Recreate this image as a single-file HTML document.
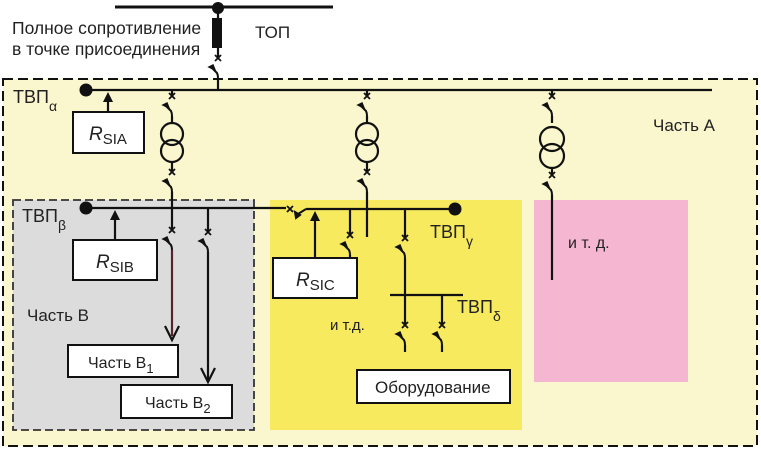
<!DOCTYPE html>
<html><head><meta charset="utf-8"><style>
html,body{margin:0;padding:0;background:#fff;}
svg{display:block;font-family:"Liberation Sans",sans-serif;}
</style></head><body>
<svg width="761" height="450" viewBox="0 0 761 450" xmlns="http://www.w3.org/2000/svg">
<defs>
<g id="sw" stroke="#111" stroke-width="2" fill="none">
 <path d="M-3,-3 L3,3 M3,-3 L-3,3" stroke-width="1.8"/>
 <path d="M-7,9 L-1,15 Q0,17 0,20"/>
 <path d="M-9,9 L-5,7 L-3,12 Z" fill="#111" stroke-width="1.5"/>
</g>
</defs>
<rect width="761" height="450" fill="#fff"/>
<rect x="3" y="79" width="754" height="367" fill="#faf6cd" stroke="#111" stroke-width="2" stroke-dasharray="10,5"/>
<rect x="13" y="200" width="241" height="230" fill="#dcdcdc" stroke="#333" stroke-width="1.8" stroke-dasharray="8,4"/>
<rect x="270" y="200" width="252" height="230" fill="#f7ea5e"/>
<rect x="534" y="200" width="154" height="182" fill="#f5b6d1"/>
<g stroke="#111" stroke-width="2.2" fill="none">
 <line x1="115" y1="7" x2="333" y2="7" stroke-width="3"/>
 <line x1="218" y1="7" x2="218" y2="20"/>
 <line x1="218" y1="48" x2="218" y2="58"/>
 <line x1="218" y1="78" x2="218" y2="90"/>
 <line x1="86" y1="90" x2="712" y2="90"/>
 <line x1="86" y1="208" x2="286" y2="208"/>
 <line x1="306" y1="209" x2="455" y2="209"/>
 <line x1="108" y1="112" x2="108" y2="100"/>
 <line x1="115" y1="240" x2="115" y2="218"/>
 <line x1="315" y1="258" x2="315" y2="219"/>
 <line x1="172" y1="90" x2="172" y2="96"/>
 <line x1="172" y1="116" x2="172" y2="123"/>
 <circle cx="172" cy="134" r="11"/><circle cx="172" cy="151" r="11"/>
 <line x1="172" y1="162" x2="172" y2="172"/>
 <line x1="172" y1="192" x2="172" y2="230"/>
 <line x1="172" y1="250" x2="172" y2="336" stroke="#5a2330"/>
 <path d="M165,326 L172,340 L179,326"/>
 <line x1="208" y1="208" x2="208" y2="232"/>
 <line x1="208" y1="252" x2="208" y2="380"/>
 <path d="M201,368 L208,382 L215,368"/>
 <line x1="367" y1="90" x2="367" y2="96"/>
 <line x1="367" y1="116" x2="367" y2="123"/>
 <circle cx="367" cy="134" r="11"/><circle cx="367" cy="151" r="11"/>
 <line x1="367" y1="162" x2="367" y2="172"/>
 <line x1="367" y1="192" x2="367" y2="237"/>
 <line x1="552" y1="90" x2="552" y2="96"/>
 <line x1="552" y1="116" x2="552" y2="123"/>
 <circle cx="552" cy="139" r="12"/><circle cx="552" cy="156" r="12"/>
 <line x1="552" y1="168" x2="552" y2="175"/>
 <line x1="552" y1="195" x2="552" y2="280"/>
 <line x1="350" y1="209" x2="350" y2="235"/>
 <line x1="350" y1="255" x2="350" y2="258"/>
 <line x1="405" y1="209" x2="405" y2="238"/>
 <line x1="405" y1="258" x2="405" y2="295"/>
 <line x1="390" y1="295" x2="463" y2="295"/>
 <line x1="405" y1="295" x2="405" y2="325"/>
 <line x1="442" y1="295" x2="442" y2="325"/>
 <line x1="405" y1="345" x2="405" y2="352"/>
 <line x1="442" y1="345" x2="442" y2="352"/>
</g>
<g fill="#111">
 <path d="M103,102 L108,92 L113,102 Z"/>
 <path d="M110,220 L115,210 L120,220 Z"/>
 <path d="M310,221 L315,211 L320,221 Z"/>
</g>
<use href="#sw" x="218" y="58"/>
<use href="#sw" x="172" y="96"/><use href="#sw" x="172" y="172"/>
<use href="#sw" x="367" y="96"/><use href="#sw" x="367" y="172"/>
<use href="#sw" x="552" y="96"/><use href="#sw" x="552" y="175"/>
<use href="#sw" x="172" y="230"/><use href="#sw" x="208" y="232"/>
<use href="#sw" x="350" y="235"/><use href="#sw" x="405" y="238"/>
<use href="#sw" x="405" y="325"/><use href="#sw" x="442" y="325"/>
<g stroke="#111" stroke-width="2" fill="none">
 <path d="M287,206 L293,212 M293,206 L287,212" stroke-width="1.8"/>
 <path d="M298,214 L306,209"/>
 <path d="M295,212 L300,215 L296,218 Z" fill="#111"/>
</g>
<rect x="212" y="18" width="10" height="30" fill="#111"/>
<circle cx="218" cy="8" r="6" fill="#111"/>
<circle cx="86" cy="90" r="6.5" fill="#111"/>
<circle cx="86" cy="208" r="6.5" fill="#111"/>
<circle cx="455" cy="209" r="6.5" fill="#111"/>
<g fill="#fff" stroke="#111" stroke-width="2">
 <rect x="73" y="112" width="71" height="41"/>
 <rect x="73" y="240" width="84" height="40"/>
 <rect x="273" y="258" width="84" height="40"/>
 <rect x="68" y="345" width="110" height="32"/>
 <rect x="121" y="385" width="111" height="33"/>
 <rect x="357" y="370" width="153" height="33"/>
</g>
<g fill="#222" font-size="17">
 <text x="12" y="34" font-size="17.5">Полное сопротивление</text>
 <text x="12" y="55" font-size="17.5">в точке присоединения</text>
 <text x="255" y="38">ТОП</text>
 <text x="13" y="103" font-size="18">ТВП<tspan font-size="14" dy="8">α</tspan></text>
 <text x="22" y="222" font-size="18">ТВП<tspan font-size="14" dy="8">β</tspan></text>
 <text x="430" y="238" font-size="18">ТВП<tspan font-size="14" dy="8">γ</tspan></text>
 <text x="457" y="313" font-size="18">ТВП<tspan font-size="14" dy="8">δ</tspan></text>
 <text x="89" y="140" font-size="19"><tspan font-style="italic">R</tspan><tspan font-size="15" dy="4">SIA</tspan></text>
 <text x="96" y="268" font-size="19"><tspan font-style="italic">R</tspan><tspan font-size="15" dy="4">SIB</tspan></text>
 <text x="296" y="286" font-size="19"><tspan font-style="italic">R</tspan><tspan font-size="15" dy="4">SIC</tspan></text>
 <text x="88" y="368" font-size="16">Часть В<tspan font-size="13" dy="5">1</tspan></text>
 <text x="145" y="408" font-size="16">Часть В<tspan font-size="13" dy="5">2</tspan></text>
 <text x="375" y="393">Оборудование</text>
 <text x="653" y="131">Часть А</text>
 <text x="27" y="321">Часть В</text>
 <text x="330" y="330" font-size="15">и т.д.</text>
 <text x="568" y="248" font-size="16">и т. д.</text>
</g>
</svg>
</body></html>
